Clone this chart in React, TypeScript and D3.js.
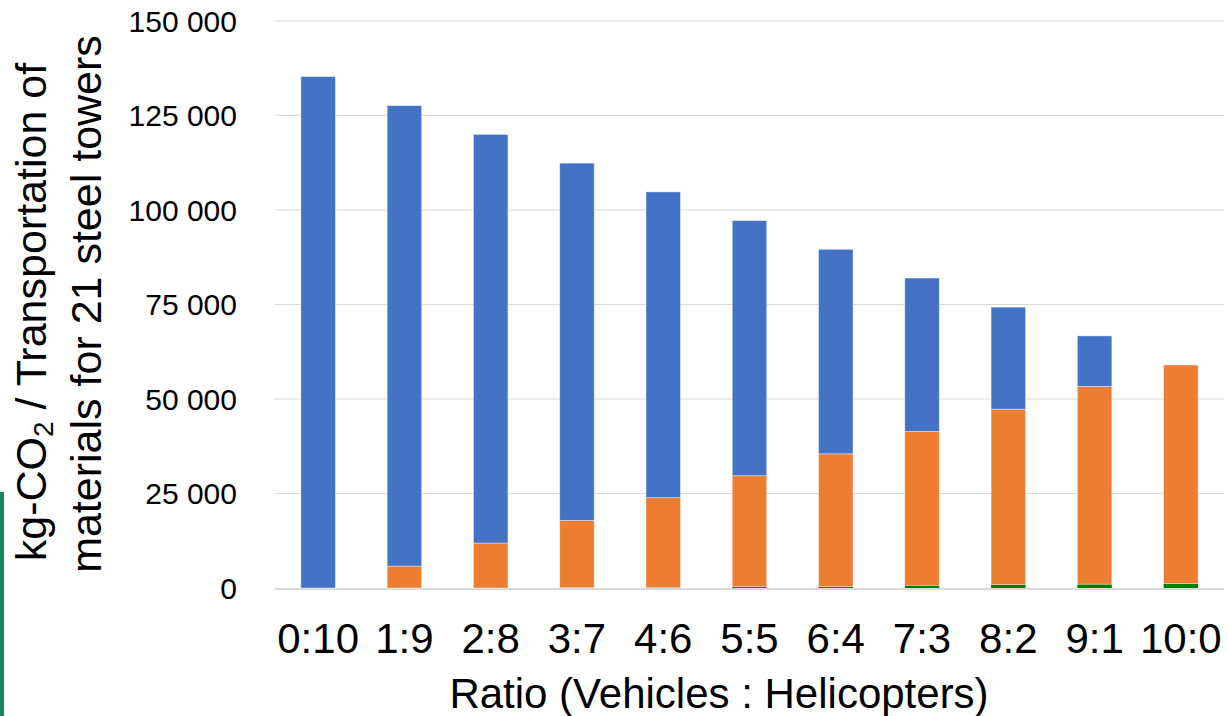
import { useEffect, useRef } from 'react';
import * as d3 from 'd3';

// Ratio of transport by vehicles : helicopters
const categories = ['0:10', '1:9', '2:8', '3:7', '4:6', '5:5', '6:4', '7:3', '8:2', '9:1', '10:0'];

// kg-CO2 per series
const otherValues = [0, 0, 0, 100, 150, 350, 350, 700, 900, 1000, 1150];
const vehicleValues = [0, 5800, 11900, 17800, 23750, 29350, 35150, 40700, 46400, 52300, 57850];
const helicopterValues = [135300, 121800, 108100, 94500, 80900, 67500, 54100, 40600, 27000, 13400, 0];

const yTicks = [0, 25000, 50000, 75000, 100000, 125000, 150000];

const seriesKeys = ['other', 'vehicle', 'helicopter'];
const seriesColors: Record<string, string> = {
  other: '#008000',
  vehicle: '#ED7D31',
  helicopter: '#4472C4',
};

const W = 1228;
const H = 716;
const FONT = "'Liberation Sans', Arial, sans-serif";

const App = () => {
  const svgRef = useRef<SVGSVGElement>(null);

  useEffect(() => {
    if (!svgRef.current) return;
    const svg = d3.select(svgRef.current);
    svg.selectAll('*').remove();

    const rows = categories.map((c, i) => ({
      cat: c,
      other: otherValues[i],
      vehicle: vehicleValues[i],
      helicopter: helicopterValues[i],
    }));

    const x = d3
      .scaleBand<string>()
      .domain(categories)
      .range([275, 1224])
      .paddingInner(0.6)
      .paddingOuter(0.3);

    const y = d3.scaleLinear().domain([0, 150000]).range([588, 21]);

    // left accent strip
    svg.append('rect')
      .attr('x', 0)
      .attr('y', 492)
      .attr('width', 4)
      .attr('height', H - 492)
      .attr('fill', '#16875A');

    // gridlines
    svg.append('g')
      .selectAll('line')
      .data(yTicks.filter((t) => t > 0))
      .join('line')
      .attr('x1', 275)
      .attr('x2', 1224)
      .attr('y1', (d) => y(d))
      .attr('y2', (d) => y(d))
      .attr('stroke', '#D9D9D9')
      .attr('stroke-width', 1.2);

    // baseline, just under the bars
    svg.append('line')
      .attr('x1', 275)
      .attr('x2', 1224)
      .attr('y1', y(0) + 1)
      .attr('y2', y(0) + 1)
      .attr('stroke', '#D9D9D9')
      .attr('stroke-width', 2);

    // tick labels
    const fmt = (v: number) => d3.format(',')(v).replace(/,/g, ' ');
    svg.append('g')
      .selectAll('text')
      .data(yTicks)
      .join('text')
      .attr('x', 237)
      .attr('y', (d) => y(d))
      .attr('dy', '0.36em')
      .attr('text-anchor', 'end')
      .attr('font-family', FONT)
      .attr('font-size', 30)
      .attr('fill', '#000')
      .text((d) => fmt(d));

    // stacked bars
    const stack = d3.stack<(typeof rows)[number]>().keys(seriesKeys);
    const layers = stack(rows);

    svg.append('g')
      .selectAll('g')
      .data(layers)
      .join('g')
      .attr('fill', (d) => seriesColors[d.key])
      .selectAll('rect')
      .data((d) => d)
      .join('rect')
      .attr('x', (d) => x(d.data.cat) ?? 0)
      .attr('width', x.bandwidth())
      .attr('y', (d) => y(d[1]))
      .attr('height', (d) => Math.max(0, y(d[0]) - y(d[1])))
      .attr('stroke', '#FFFFFF')
      .attr('stroke-opacity', 0.5)
      .attr('stroke-width', (d) => (y(d[0]) - y(d[1]) > 6 ? 0.8 : 0));

    // category labels
    svg.append('g')
      .selectAll('text')
      .data(categories)
      .join('text')
      .attr('x', (d) => (x(d) ?? 0) + x.bandwidth() / 2)
      .attr('y', 653)
      .attr('text-anchor', 'middle')
      .attr('font-family', FONT)
      .attr('font-size', 42)
      .attr('fill', '#000')
      .text((d) => d);

    // x title
    svg.append('text')
      .attr('x', 719)
      .attr('y', 708)
      .attr('text-anchor', 'middle')
      .attr('font-family', FONT)
      .attr('font-size', 42)
      .attr('fill', '#000')
      .text('Ratio (Vehicles : Helicopters)');

    // y title, two lines
    const t1 = svg.append('text')
      .attr('transform', 'translate(46,312) rotate(-90)')
      .attr('text-anchor', 'middle')
      .attr('font-family', FONT)
      .attr('font-size', 43)
      .attr('fill', '#000');
    t1.append('tspan').text('kg-CO');
    t1.append('tspan').attr('font-size', 28).attr('dy', 7).text('2');
    t1.append('tspan').attr('dy', -7).text(' / Transportation of');

    svg.append('text')
      .attr('transform', 'translate(101,304) rotate(-90)')
      .attr('text-anchor', 'middle')
      .attr('font-family', FONT)
      .attr('font-size', 43)
      .attr('fill', '#000')
      .text('materials for 21 steel towers');
  }, []);

  return (
    <div style={{ position: 'absolute', left: 0, top: 0 }}>
      <svg ref={svgRef} width={W} height={H} style={{ display: 'block', background: '#fff' }} />
    </div>
  );
};

export default App;
